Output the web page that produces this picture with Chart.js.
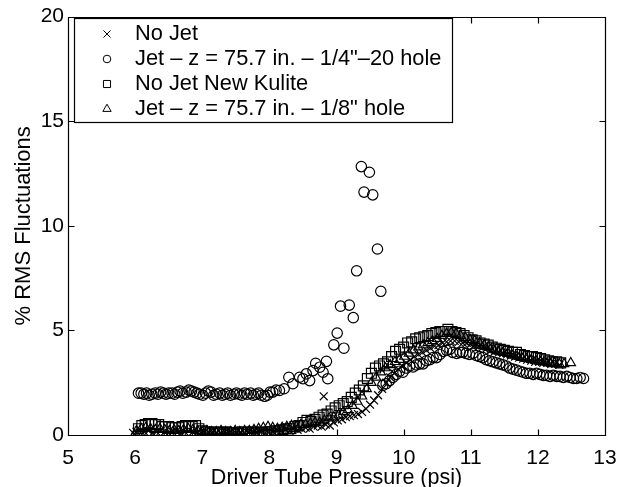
<!DOCTYPE html>
<html>
<head>
<meta charset="utf-8">
<script src="https://cdn.jsdelivr.net/npm/chart.js@4/dist/chart.umd.min.js"></script>
<style>
  html, body { margin: 0; padding: 0; background: #fff; }
  #wrap { width: 630px; height: 487px; position: relative; }
</style>
</head>
<body>
<div id="wrap"><canvas id="c"></canvas></div>
<script>
// Driver tube pressure (psi) and % RMS fluctuation for each run
const noJetP = [5.97,6.02,6.08,6.14,6.20,6.26,6.32,6.38,6.44,6.50,6.56,6.62,6.68,6.74,6.80,6.86,6.92,6.98,7.04,7.10,7.16,7.22,7.28,7.34,7.40,7.46,7.52,7.58,7.64,7.70,7.76,7.82,7.88,7.94,8.00,8.06,8.12,8.18,8.24,8.30,8.36,8.42,8.48,8.54,8.60,8.66,8.72,8.78,8.81,8.84,8.90,8.96,9.02,9.08,9.14,9.20,9.26,9.32,9.38,9.44,9.50,9.56,9.62,9.68,9.74,9.80,9.86,9.92,9.98,10.04,10.10,10.16,10.22,10.28,10.34,10.40,10.46,10.52,10.58,10.64,10.70,10.76,10.82,10.88,10.94,11.00,11.06,11.12,11.18,11.24,11.30,11.36,11.42,11.48,11.54,11.60,11.66,11.72,11.78,11.84,11.90,11.96,12.02,12.08,12.14,12.20,12.26,12.32];
const noJetRms = [0.1,0.15,0.2,0.15,0.2,0.1,0.15,0.2,0.15,0.1,0.15,0.2,0.1,0.15,0.2,0.15,0.1,0.1,0.15,0.1,0.15,0.1,0.1,0.15,0.1,0.1,0.15,0.1,0.1,0.15,0.1,0.1,0.15,0.1,0.15,0.15,0.2,0.2,0.25,0.2,0.3,0.25,0.3,0.35,0.3,0.4,0.45,0.4,1.85,0.5,0.45,0.6,0.7,0.75,0.85,0.9,0.95,1.0,1.1,1.25,1.45,1.65,1.9,2.2,2.5,2.75,2.95,3.15,3.3,3.45,3.6,3.75,3.85,3.95,4.05,4.15,4.25,4.3,4.4,4.45,4.5,4.5,4.45,4.4,4.4,4.35,4.3,4.25,4.2,4.15,4.05,4.0,3.95,3.9,3.85,3.8,3.75,3.7,3.65,3.6,3.55,3.5,3.5,3.45,3.45,3.4,3.4,3.35];

const jetQuarterP = [6.05,6.09,6.13,6.17,6.21,6.25,6.30,6.34,6.38,6.42,6.46,6.50,6.55,6.59,6.63,6.67,6.71,6.76,6.80,6.84,6.88,6.92,6.96,7.01,7.05,7.09,7.13,7.17,7.21,7.26,7.30,7.34,7.38,7.42,7.47,7.51,7.55,7.59,7.63,7.67,7.72,7.76,7.80,7.84,7.88,7.93,7.97,8.01,8.05,8.10,8.15,8.22,8.29,8.35,8.45,8.50,8.55,8.60,8.65,8.69,8.75,8.80,8.85,8.87,8.96,9.01,9.06,9.11,9.19,9.25,9.30,9.37,9.41,9.49,9.54,9.61,9.66,9.69,9.74,9.79,9.84,9.89,9.94,9.99,10.04,10.09,10.14,10.19,10.24,10.29,10.34,10.39,10.44,10.49,10.54,10.59,10.64,10.69,10.73,10.79,10.84,10.88,10.93,10.98,11.03,11.08,11.13,11.18,11.23,11.28,11.33,11.38,11.43,11.48,11.53,11.58,11.63,11.68,11.73,11.78,11.83,11.88,11.93,11.98,12.03,12.08,12.13,12.18,12.23,12.28,12.33,12.38,12.43,12.48,12.53,12.58,12.63,12.68];
const jetQuarterRms = [2.0,2.0,1.95,2.0,1.9,1.95,2.0,1.95,2.05,2.0,1.95,2.0,2.0,1.95,2.05,2.1,2.0,2.05,2.15,2.1,2.05,2.0,1.95,1.9,2.0,2.1,2.05,1.9,1.95,2.0,1.9,1.95,2.0,1.9,1.95,2.0,1.95,1.9,2.0,1.95,2.0,1.9,1.95,2.0,1.9,1.85,1.9,2.05,2.05,2.15,2.13,2.21,2.76,2.45,2.76,2.69,2.92,2.6,3.08,3.43,3.24,3.0,3.52,2.69,4.31,4.87,6.16,4.15,6.21,5.61,7.85,12.83,11.61,12.56,11.48,8.89,6.87,2.37,2.45,2.6,2.75,2.9,3.05,3.0,3.2,3.3,3.25,3.35,3.4,3.4,3.55,3.6,3.7,3.7,3.85,4.0,4.05,4.1,3.95,3.9,3.95,3.95,3.9,3.85,3.9,3.8,3.75,3.7,3.6,3.55,3.5,3.45,3.4,3.35,3.3,3.2,3.15,3.1,3.05,3.0,2.95,2.95,2.9,2.95,2.9,2.85,2.85,2.8,2.85,2.8,2.8,2.75,2.8,2.75,2.7,2.7,2.75,2.7];

const newKuliteP = [6.05,6.10,6.15,6.20,6.25,6.30,6.35,6.40,6.45,6.50,6.55,6.60,6.65,6.70,6.75,6.80,6.85,6.90,6.95,7.00,7.06,7.12,7.18,7.24,7.30,7.36,7.42,7.48,7.54,7.60,7.66,7.72,7.78,7.84,7.90,7.96,8.02,8.08,8.14,8.20,8.26,8.32,8.38,8.44,8.50,8.56,8.62,8.68,8.74,8.80,8.86,8.92,8.98,9.04,9.10,9.16,9.22,9.28,9.34,9.40,9.46,9.52,9.58,9.64,9.70,9.76,9.82,9.88,9.94,10.00,10.06,10.12,10.18,10.24,10.30,10.36,10.42,10.48,10.54,10.60,10.66,10.72,10.78,10.84,10.90,10.96,11.02,11.08,11.14,11.20,11.26,11.32,11.38,11.44,11.50,11.56,11.62,11.68,11.74,11.80,11.86,11.92,11.98,12.04,12.10,12.16,12.22,12.28,12.34];
const newKuliteRms = [0.3,0.45,0.5,0.55,0.55,0.5,0.5,0.4,0.4,0.4,0.35,0.35,0.35,0.4,0.45,0.45,0.4,0.45,0.3,0.2,0.15,0.1,0.15,0.1,0.1,0.15,0.1,0.1,0.1,0.15,0.1,0.1,0.15,0.1,0.1,0.15,0.15,0.2,0.2,0.25,0.3,0.3,0.4,0.45,0.6,0.7,0.65,0.75,0.85,0.95,1.0,1.15,1.3,1.4,1.5,1.6,1.8,2.0,2.15,2.35,2.7,2.95,3.2,3.3,3.4,3.5,3.75,4.0,4.1,4.2,4.4,4.45,4.6,4.65,4.7,4.75,4.85,4.9,4.95,4.95,5.05,4.95,4.9,4.85,4.75,4.65,4.55,4.5,4.4,4.35,4.3,4.2,4.15,4.1,4.05,4.0,3.95,3.95,3.85,3.8,3.75,3.75,3.7,3.65,3.6,3.55,3.5,3.5,3.45];

const jetEighthP = [6.02,6.09,6.16,6.23,6.30,6.37,6.44,6.51,6.58,6.65,6.72,6.79,6.86,6.93,7.00,7.07,7.14,7.21,7.28,7.35,7.42,7.49,7.56,7.63,7.70,7.77,7.84,7.91,7.98,8.05,8.12,8.19,8.26,8.33,8.40,8.47,8.54,8.61,8.68,8.75,8.82,8.89,8.96,9.03,9.10,9.17,9.24,9.31,9.38,9.45,9.52,9.59,9.66,9.73,9.80,9.87,9.94,10.01,10.08,10.15,10.22,10.29,10.36,10.43,10.50,10.57,10.64,10.71,10.78,10.85,10.92,10.99,11.06,11.13,11.20,11.27,11.34,11.41,11.48,11.55,11.62,11.69,11.76,11.83,11.90,11.97,12.04,12.11,12.18,12.25,12.32,12.39,12.49];
const jetEighthRms = [0.2,0.3,0.35,0.3,0.25,0.3,0.25,0.2,0.25,0.2,0.25,0.3,0.25,0.2,0.15,0.2,0.15,0.15,0.2,0.15,0.15,0.2,0.15,0.2,0.2,0.25,0.3,0.35,0.4,0.35,0.3,0.35,0.4,0.45,0.4,0.5,0.5,0.55,0.6,0.6,0.7,0.8,0.85,0.95,1.1,1.2,1.4,1.6,1.85,2.2,2.5,2.75,3.0,3.2,3.35,3.5,3.6,3.75,3.9,4.05,4.2,4.3,4.4,4.5,4.6,4.75,4.85,4.9,4.85,4.75,4.65,4.55,4.5,4.4,4.3,4.2,4.1,4.0,3.95,3.9,3.8,3.75,3.7,3.65,3.6,3.55,3.5,3.5,3.45,3.45,3.4,3.4,3.45];

const seriesLabels = [
  'No Jet',
  'Jet \u2013 z = 75.7 in. \u2013 1/4"\u201320 hole',
  'No Jet New Kulite',
  'Jet \u2013 z = 75.7 in. \u2013 1/8" hole'
];

const xTitle = 'Driver Tube Pressure (psi)';
const yTitle = '% RMS Fluctuations';

const FONT = '"Liberation Sans", Arial, Helvetica, sans-serif';

function pairs(xs, ys) {
  return xs.map((v, i) => ({ x: v, y: ys[i] }));
}

function markerSet(label, data, style, radius, order) {
  return {
    label, data, order,
    showLine: false,
    pointStyle: style,
    pointRadius: radius,
    pointHoverRadius: radius,
    pointBorderWidth: 1.2,
    pointBorderColor: '#000',
    pointBackgroundColor: 'rgba(0,0,0,0)',
    legendRadius: { crossRot: 5, circle: 3.8, rect: 5, triangle: 4.8 }[style]
  };
}

// Axes box with inward tick marks on all four sides
const boxAxes = {
  id: 'boxAxes',
  afterDatasetsDraw(chart) {
    const { ctx, chartArea: a, scales: { x, y } } = chart;
    const L = Math.round(a.left) + 0.5, R = Math.round(a.right) + 0.5;
    const T = Math.round(a.top) + 0.5, B = Math.round(a.bottom) + 0.5;
    const len = 6;
    ctx.save();
    ctx.strokeStyle = '#000';
    ctx.lineWidth = 1.2;
    ctx.beginPath();
    ctx.rect(L, T, R - L, B - T);
    x.ticks.forEach(t => {
      const px = Math.round(x.getPixelForValue(t.value)) + 0.5;
      ctx.moveTo(px, B); ctx.lineTo(px, B - len);
      ctx.moveTo(px, T); ctx.lineTo(px, T + len);
    });
    y.ticks.forEach(t => {
      const py = Math.round(y.getPixelForValue(t.value)) + 0.5;
      ctx.moveTo(L, py); ctx.lineTo(L + len, py);
      ctx.moveTo(R, py); ctx.lineTo(R - len, py);
    });
    ctx.stroke();
    ctx.restore();
  }
};

// Boxed legend in the upper-left corner of the plot
const boxLegend = {
  id: 'boxLegend',
  afterDraw(chart) {
    const { ctx } = chart;
    const bx = 74.5, by = 18.5, bw = 378, bh = 104;
    const markX = 107, textX = 135, row0 = 34, rowGap = 25;
    ctx.save();
    ctx.fillStyle = '#fff';
    ctx.strokeStyle = '#000';
    ctx.lineWidth = 1.2;
    ctx.fillRect(bx, by, bw, bh);
    ctx.strokeRect(bx, by, bw, bh);
    chart.data.datasets.forEach((ds, i) => {
      const yy = row0 + i * rowGap;
      ctx.fillStyle = 'rgba(0,0,0,0)';
      ctx.strokeStyle = '#000';
      ctx.lineWidth = 1;
      Chart.helpers.drawPoint(ctx, {
        pointStyle: ds.pointStyle,
        radius: ds.legendRadius,
        borderWidth: 1,
        rotation: 0
      }, markX, yy);
      ctx.fillStyle = '#000';
      ctx.font = '21.8px ' + FONT;
      ctx.textAlign = 'left';
      ctx.textBaseline = 'middle';
      ctx.fillText(ds.label, textX, yy);
    });
    ctx.restore();
  }
};

new Chart(document.getElementById('c'), {
  type: 'scatter',
  data: {
    datasets: [
      markerSet(seriesLabels[0], pairs(noJetP, noJetRms), 'crossRot', 5.6, 4),
      markerSet(seriesLabels[1], pairs(jetQuarterP, jetQuarterRms), 'circle', 5.2, 3),
      markerSet(seriesLabels[2], pairs(newKuliteP, newKuliteRms), 'rect', 7, 2),
      markerSet(seriesLabels[3], pairs(jetEighthP, jetEighthRms), 'triangle', 5.4, 1)
    ]
  },
  options: {
    responsive: true,
    maintainAspectRatio: false,
    animation: false,
    events: [],
    layout: { padding: { top: 13, right: 25, left: 0, bottom: 0 } },
    plugins: { legend: { display: false }, tooltip: { enabled: false } },
    scales: {
      x: {
        type: 'linear', min: 5, max: 13,
        grid: { display: false, drawTicks: false },
        border: { display: false },
        ticks: { stepSize: 1, color: '#000', padding: 11, font: { family: FONT, size: 21 } },
        title: { display: true, text: xTitle, color: '#000', padding: 0,
                 font: { family: FONT, size: 21.5, lineHeight: 0.8 } },
        afterFit(s) { s.height = 52; }
      },
      y: {
        type: 'linear', min: 0, max: 20,
        grid: { display: false, drawTicks: false },
        border: { display: false },
        ticks: { stepSize: 5, color: '#000', padding: 4, font: { family: FONT, size: 21 } },
        title: { display: true, text: yTitle, color: '#000', padding: { top: 13, bottom: 0 },
                 font: { family: FONT, size: 22, lineHeight: 1 } },
        afterFit(s) { s.width = 68; }
      }
    }
  },
  plugins: [boxAxes, boxLegend]
});
</script>
</body>
</html>
